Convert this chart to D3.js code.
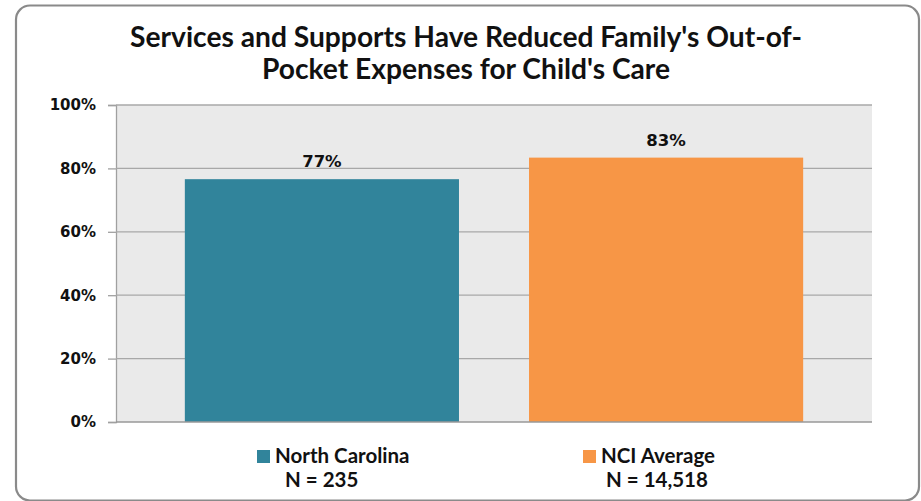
<!DOCTYPE html>
<html><head><meta charset="utf-8">
<script src="https://cdn.jsdelivr.net/npm/d3@7"></script>
<style>html,body{margin:0;padding:0;background:#fff;}svg{display:block;}</style>
</head><body>
<script>
const titleLines = ["Services and Supports Have Reduced Family's Out-of-", "Pocket Expenses for Child's Care"];
const categories = ["North Carolina", "NCI Average"];
const values = [76.6, 83.4];
const valueLabels = ["77%", "83%"];
const sampleSizes = ["N = 235", "N = 14,518"];
const colors = ["#31849B", "#F79646"];
const yTicks = [0, 20, 40, 60, 80, 100];

const W = 921, H = 501;
const svg = d3.select("body").append("svg").attr("width", W).attr("height", H);

svg.append("rect").attr("x", 16).attr("y", 5.5).attr("width", 903).attr("height", 495)
  .attr("rx", 14).attr("fill", "#fff").attr("stroke", "#8a8a8a").attr("stroke-width", 2.2);

const m = {left: 116, right: 872, top: 105, bottom: 422};
const x = d3.scaleBand().domain(categories).range([m.left, m.right]).paddingInner(0.2035).paddingOuter(0.2);
const y = d3.scaleLinear().domain([0, 100]).range([m.bottom, m.top]);

svg.append("rect").attr("x", m.left).attr("y", m.top).attr("width", m.right - m.left)
  .attr("height", m.bottom - m.top).attr("fill", "#EAEAEA");

const yAxis = svg.append("g").attr("transform", `translate(${m.left},0)`)
  .call(d3.axisLeft(y).tickValues(yTicks).tickSize(8).tickPadding(12).tickFormat(d => d + "%"));
yAxis.select(".domain").attr("stroke", "#a0a0a0").attr("stroke-width", 1.3);
yAxis.selectAll(".tick line").attr("stroke", "#a0a0a0").attr("stroke-width", 1.3);
yAxis.selectAll(".tick text").attr("font-family", "DejaVu Sans").attr("font-weight", "bold")
  .attr("font-size", 15).attr("fill", "#111");

svg.append("g").selectAll("line").data(yTicks.filter(d => d > 0)).join("line")
  .attr("x1", m.left).attr("x2", m.right).attr("y1", d => y(d)).attr("y2", d => y(d))
  .attr("stroke", "#a8a8a8").attr("stroke-width", 1.3);

svg.append("g").selectAll("rect").data(categories).join("rect")
  .attr("x", d => x(d)).attr("width", x.bandwidth())
  .attr("y", (d, i) => y(values[i])).attr("height", (d, i) => y(0) - y(values[i]))
  .attr("fill", (d, i) => colors[i]);

svg.append("line").attr("x1", m.left).attr("x2", m.right).attr("y1", m.bottom).attr("y2", m.bottom)
  .attr("stroke", "#999").attr("stroke-width", 1.5);

svg.append("g").selectAll("text").data(categories).join("text")
  .attr("x", d => x(d) + x.bandwidth() / 2).attr("y", (d, i) => y(values[i]) - 12)
  .attr("text-anchor", "middle").attr("font-family", "DejaVu Sans").attr("font-weight", "bold")
  .attr("font-size", 16.5).attr("fill", "#111").text((d, i) => valueLabels[i]);

svg.append("g").selectAll("text").data(titleLines).join("text")
  .attr("x", 466).attr("y", (d, i) => 47 + i * 32).attr("text-anchor", "middle")
  .attr("font-family", "Lato").attr("font-weight", "bold").attr("font-size", 28.2)
  .attr("fill", "#111").text(d => d);

const swatchX = [257, 583];
const nOffset = [10, 5];
const leg = svg.append("g").selectAll("g").data(categories).join("g")
  .attr("transform", (d, i) => `translate(${swatchX[i]},0)`);
leg.append("rect").attr("x", 0).attr("y", 450).attr("width", 13).attr("height", 13)
  .attr("fill", (d, i) => colors[i]);
leg.append("text").attr("x", 18).attr("y", 463).attr("font-family", "Lato").attr("font-weight", "bold")
  .attr("font-size", 20.5).attr("fill", "#111").text(d => d);
leg.append("text").attr("x", (d, i) => 18 + nOffset[i]).attr("y", 487).attr("font-family", "Lato").attr("font-weight", "bold")
  .attr("font-size", 20.5).attr("fill", "#111").text((d, i) => sampleSizes[i]);
</script>
</body></html>
